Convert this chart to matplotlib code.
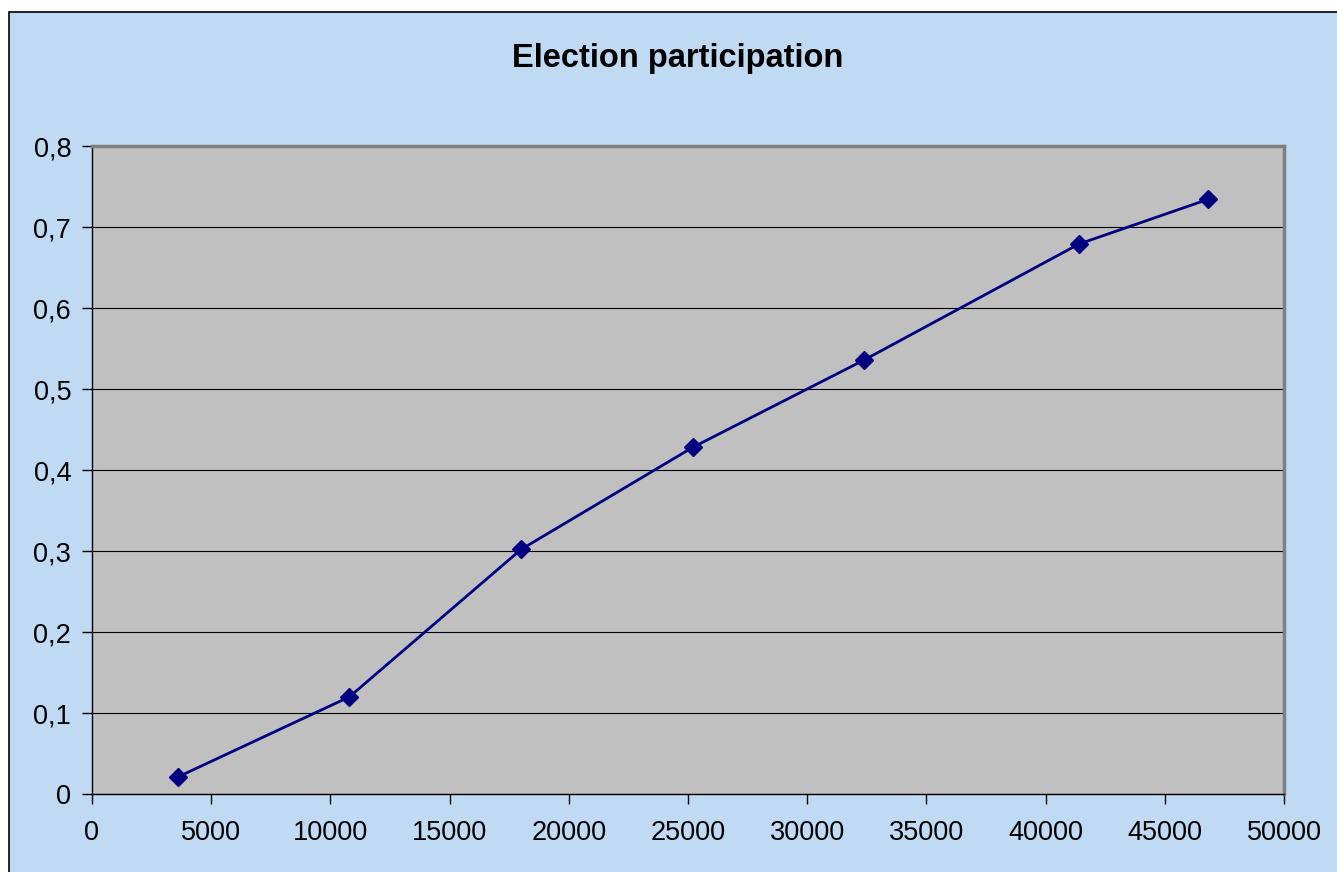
import matplotlib
matplotlib.use("Agg")
import matplotlib.pyplot as plt
from matplotlib.patches import Rectangle
from matplotlib.ticker import FuncFormatter

# Participation by population size
population = [3600, 10800, 18000, 25200, 32400, 41400, 46800]
participation = [0.021, 0.12, 0.302, 0.428, 0.536, 0.679, 0.734]
x_ticks = [0, 5000, 10000, 15000, 20000, 25000, 30000, 35000, 40000, 45000, 50000]
y_ticks = [0, 0.1, 0.2, 0.3, 0.4, 0.5, 0.6, 0.7, 0.8]

plt.rcParams['font.family'] = ['Liberation Sans', 'DejaVu Sans']

W, H = 1337, 872
fig = plt.figure(figsize=(W / 100, H / 100), dpi=100)
fig.patch.set_facecolor('white')

# chart area frame
frame = Rectangle((9 / W, -0.1), 1.2, 1 - 12 / H + 0.1,
                  transform=fig.transFigure, facecolor='#C0DAF3',
                  edgecolor='black', linewidth=1.2, zorder=-5)
fig.patches.append(frame)

ax = fig.add_axes([92 / W, (H - 794) / H, (1284 - 92) / W, (794 - 146) / H])
ax.set_zorder(2)
ax.set_facecolor('#C0C0C0')
ax.set_xlim(0, 50000)
ax.set_ylim(0, 0.8)
ax.set_xticks(x_ticks)
ax.set_yticks(y_ticks)
ax.xaxis.set_major_formatter(FuncFormatter(lambda v, p: f"{int(v)}"))
ax.yaxis.set_major_formatter(FuncFormatter(
    lambda v, p: "0" if v == 0 else f"{v:.1f}".replace('.', ',')))
ax.yaxis.grid(True, color='black', linewidth=0.8)
ax.set_axisbelow(True)

for s in ('top', 'right'):
    ax.spines[s].set_color('#808080')
    ax.spines[s].set_linewidth(2.5)
for s in ('left', 'bottom'):
    ax.spines[s].set_color('black')
    ax.spines[s].set_linewidth(1)

ax.tick_params(direction='out', length=7, width=1, color='black',
               labelsize=19.5, pad=12)
ax.tick_params(axis='y', pad=8)

ax.plot(population, participation, color='#000080', linewidth=2,
        marker='D', markersize=9, markerfacecolor='#000080',
        markeredgecolor='#000080', zorder=3, clip_on=False)

fig.text(678 / W, 1 - 58 / H, 'Election participation', ha='center',
         va='center', fontsize=23.5, fontweight='bold', zorder=3)

fig.savefig('out.png', dpi=100, facecolor=fig.get_facecolor())
